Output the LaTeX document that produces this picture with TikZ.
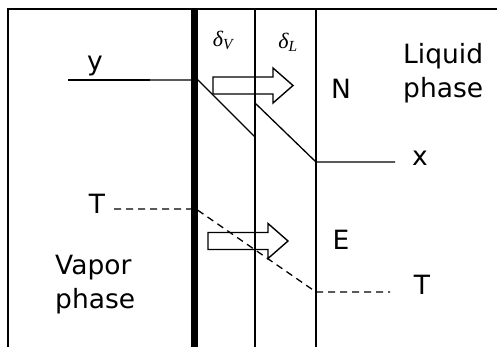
\documentclass[tikz,border=0pt]{standalone}
\usepackage{fontspec}
\setmainfont{DejaVu Sans}
\newfontfamily\filmfont{Liberation Serif}
\usetikzlibrary{positioning}

\begin{document}
\begin{tikzpicture}[x=1pt,y=-1pt,
    lbl/.style={font=\fontsize{26.5}{34}\selectfont, align=left, inner sep=0pt},
    flm/.style={font=\filmfont\itshape\fontsize{22}{24}\selectfont, inner sep=0pt},
    wall/.style={line width=2.2pt},
    prof/.style={line width=1.3pt},
    flux/.style={line width=1.4pt, line join=miter}]
  \useasboundingbox (0,0) rectangle (497,347);
  % ---------- frame and films ----------
  \draw[line width=1.6pt] (8,347) -- (8,9) -- (497,9);
  \draw[line width=6.5pt] (194.5,9) -- (194.5,347);
  \draw[wall] (255,9) -- (255,347);
  \draw[wall] (316,9) -- (316,347);
  \node[flm] (dv) at (223,40) {δ\textsubscript{V}};
  \node[flm] (dl) at (288,42) {δ\textsubscript{L}};
  % ---------- labels ----------
  \node[lbl] (ylab) at (95,66.5) {y};
  \node[lbl] (xlab) at (420,158) {x};
  \node[lbl] (tvap) at (97,204) {T};
  \node[lbl] (tliq) at (422,285) {T};
  \node[lbl] (nlab) at (341,89) {N};
  \node[lbl] (elab) at (341,240) {E};
  \node[lbl, anchor=north west] (liq) at (403,43) {Liquid\\phase};
  \node[lbl, anchor=north west] (vap) at (55,255) {Vapor\\phase};
  % ---------- concentration profile ----------
  \coordinate (ya) at (68,80);
  \coordinate (yb) at (150,80);
  \coordinate (yi) at (198,80);
  \coordinate (ye) at (255,137);
  \coordinate (xe) at (255,103);
  \coordinate (xb) at (316,162);
  \coordinate (xc) at (395,162);
  \draw[line width=1.8pt] (ya) -- (yb);
  \draw[prof] (yb) -- (yi) -- (ye);
  \draw[prof] (xe) -- (xb) -- (xc);
  % ---------- temperature profile ----------
  \coordinate (ta) at (114,209);
  \coordinate (ti) at (196,209);
  \coordinate (tb) at (316,292);
  \coordinate (tc) at (390,292);
  \draw[prof, dash pattern=on 7pt off 5pt] (ta) -- (ti) -- (tb) -- (tc);
  % ---------- fluxes ----------
  \foreach \bx/\by in {213/85.5, 208/241}
    \draw[flux] (\bx,\by-8.5) -- ++(60,0) -- ++(0,-9) -- (\bx+80,\by)
      -- (\bx+60,\by+17.5) -- ++(0,-9) -- (\bx,\by+8.5) -- cycle;
\end{tikzpicture}
\end{document}
